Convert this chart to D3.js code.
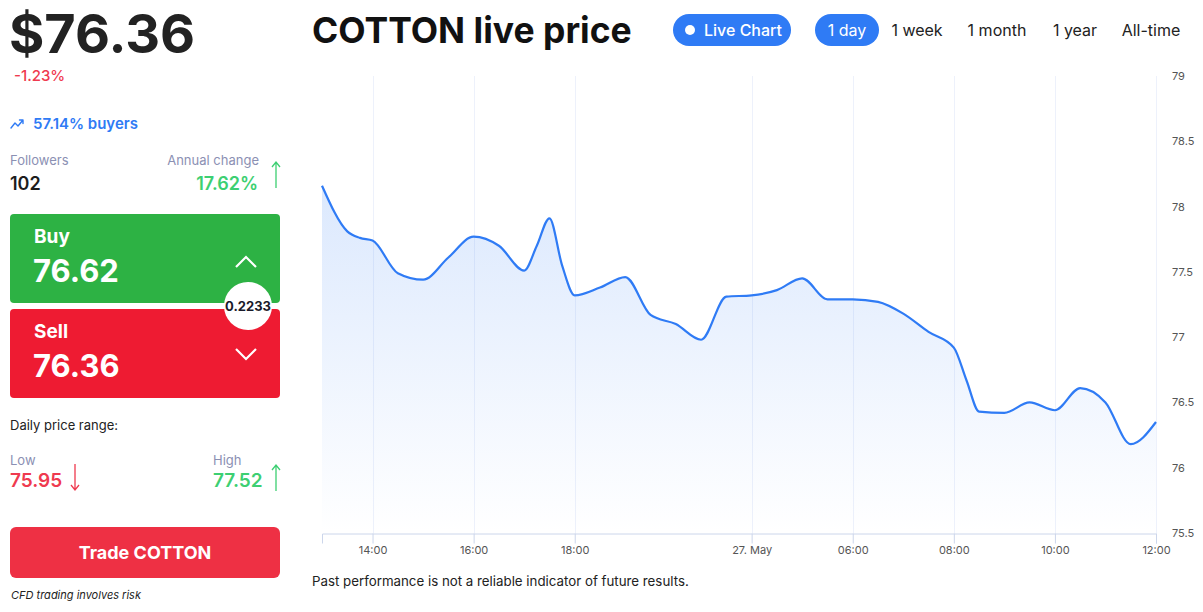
<!DOCTYPE html>
<html>
<head>
<meta charset="utf-8">
<script src="https://cdn.jsdelivr.net/npm/d3@7"></script>
<style>
  body { margin: 0; background: #fff; font-family: Inter, "Noto Sans", sans-serif; }
  svg text { font-family: Inter, "Noto Sans", sans-serif; }
</style>
</head>
<body>
<svg id="chart" width="1203" height="612"></svg>
<script>
// price samples (time, value)
const times = [
  "2024-05-26 13:00", "2024-05-26 13:30", "2024-05-26 13:45", "2024-05-26 14:00",
  "2024-05-26 14:30", "2024-05-26 15:00", "2024-05-26 15:30", "2024-05-26 16:00",
  "2024-05-26 16:30", "2024-05-26 17:00", "2024-05-26 17:15", "2024-05-26 17:30",
  "2024-05-26 17:45", "2024-05-26 18:00", "2024-05-26 18:30", "2024-05-26 19:00",
  "2024-05-26 19:30", "2024-05-26 20:00", "2024-05-26 20:30",
  "2024-05-27 03:30", "2024-05-27 04:00", "2024-05-27 04:30", "2024-05-27 05:00",
  "2024-05-27 05:30", "2024-05-27 06:00", "2024-05-27 06:30", "2024-05-27 07:00",
  "2024-05-27 07:30", "2024-05-27 08:00", "2024-05-27 08:15", "2024-05-27 08:30",
  "2024-05-27 09:00", "2024-05-27 09:30", "2024-05-27 10:00", "2024-05-27 10:30",
  "2024-05-27 11:00", "2024-05-27 11:30", "2024-05-27 12:00"
];
const prices = [
  78.16, 77.81, 77.76, 77.74,
  77.49, 77.44, 77.61, 77.77,
  77.70, 77.51, 77.70, 77.91,
  77.55, 77.32, 77.38, 77.46,
  77.17, 77.10, 76.98,
  77.31, 77.32, 77.36, 77.45,
  77.29, 77.29, 77.27, 77.18,
  77.04, 76.92, 76.67, 76.43,
  76.42, 76.50, 76.44, 76.61,
  76.50, 76.18, 76.35
];
// trading sessions (market closed in between, gap collapsed like an ordinal axis)
const sessions = [["2024-05-26 13:00", "2024-05-26 20:30"], ["2024-05-27 03:00", "2024-05-27 12:00"]];
const xTickTimes = ["2024-05-26 14:00", "2024-05-26 16:00", "2024-05-26 18:00", "2024-05-27 04:00",
                    "2024-05-27 06:00", "2024-05-27 08:00", "2024-05-27 10:00", "2024-05-27 12:00"];
const xTickLabels = ["14:00", "16:00", "18:00", "27. May", "06:00", "08:00", "10:00", "12:00"];
const yTicks = [75.5, 76, 76.5, 77, 77.5, 78, 78.5, 79];

const parse = d3.timeParse("%Y-%m-%d %H:%M");
const data = times.map((t, i) => ({ t: parse(t), v: prices[i] }));

const svg = d3.select("#chart");
const plot = { left: 322, right: 1156, top: 76, bottom: 533 };
const W = plot.right - plot.left;

// piecewise time scale, gap squeezed out
const s = sessions.map(p => p.map(parse));
const len1 = s[0][1] - s[0][0], len2 = s[1][1] - s[1][0];
const a = W * len1 / (len1 + len2);
const x = d3.scaleTime()
  .domain([s[0][0], s[0][1], s[1][0], s[1][1]])
  .range([plot.left, plot.left + a, plot.left + a, plot.right]);
const y = d3.scaleLinear().domain([75.5, 79]).range([plot.bottom, plot.top]);

// gradient for area
const defs = svg.append("defs");
const grad = defs.append("linearGradient").attr("id", "areaGrad")
  .attr("x1", 0).attr("y1", 0).attr("x2", 0).attr("y2", 1);
grad.append("stop").attr("offset", "0%").attr("stop-color", "#2f7bf5").attr("stop-opacity", 0.17);
grad.append("stop").attr("offset", "100%").attr("stop-color", "#2f7bf5").attr("stop-opacity", 0.0);

// vertical grid lines
svg.append("g")
  .selectAll("line")
  .data(xTickTimes.map(parse))
  .enter()
  .append("line")
  .attr("x1", d => Math.round(x(d)) + 0.5).attr("x2", d => Math.round(x(d)) + 0.5)
  .attr("y1", plot.top).attr("y2", plot.bottom)
  .attr("stroke", "#edf1fb").attr("stroke-width", 1);

const area = d3.area().x(d => x(d.t)).y0(plot.bottom).y1(d => y(d.v)).curve(d3.curveMonotoneX);
const line = d3.line().x(d => x(d.t)).y(d => y(d.v)).curve(d3.curveMonotoneX);

svg.append("path").datum(data).attr("d", area).attr("fill", "url(#areaGrad)");
svg.append("path").datum(data).attr("d", line)
  .attr("fill", "none").attr("stroke", "#2f7bf5").attr("stroke-width", 2.2);

// x axis
const xAxis = d3.axisBottom(x)
  .tickValues(xTickTimes.map(parse))
  .tickFormat((d, i) => xTickLabels[i])
  .tickSizeOuter(0).tickSize(10).tickPadding(4);
const gx = svg.append("g").attr("transform", `translate(0,${plot.bottom + 0.5})`).call(xAxis);
gx.select(".domain").attr("stroke", "#ccd6eb");
gx.selectAll(".tick line").attr("stroke", "#ccd6eb");
gx.selectAll(".tick text").attr("fill", "#555").attr("font-size", 11);
gx.selectAll(".tick text").attr("dy", "0.55em");

// y axis on right
const yAxis = d3.axisRight(y).tickValues(yTicks).tickFormat(d3.format("")).tickSize(0).tickPadding(16);
const gy = svg.append("g").attr("transform", `translate(${plot.right},0)`).call(yAxis);
gy.select(".domain").remove();
gy.selectAll(".tick text").attr("fill", "#555").attr("font-size", 11);

// header
svg.append("text").attr("x", 312).attr("y", 43).text("COTTON live price")
  .attr("font-size", 35.5).attr("font-weight", 700).attr("fill", "#111");

svg.append("rect").attr("x", 673).attr("y", 14).attr("width", 118).attr("height", 32).attr("rx", 16).attr("fill", "#2f7bf5");
svg.append("circle").attr("cx", 690).attr("cy", 30).attr("r", 5).attr("fill", "#fff");
svg.append("text").attr("x", 704).attr("y", 36).text("Live Chart").attr("font-size", 16).attr("font-weight", 500).attr("fill", "#fff");

const ranges = ["1 day", "1 week", "1 month", "1 year", "All-time"];
const rangeX = [847, 917, 997, 1075, 1151];
svg.append("rect").attr("x", 815).attr("y", 14).attr("width", 64).attr("height", 32).attr("rx", 16).attr("fill", "#2f7bf5");
svg.append("g").selectAll("text").data(ranges).enter().append("text")
  .attr("x", (d, i) => rangeX[i]).attr("y", 36).attr("text-anchor", "middle")
  .attr("font-size", 16).attr("font-weight", 400)
  .attr("fill", (d, i) => i === 0 ? "#fff" : "#222").text(d => d);

svg.append("text").attr("x", 312).attr("y", 586).text("Past performance is not a reliable indicator of future results.")
  .attr("font-size", 13.3).attr("fill", "#222");

// left panel
const left = svg.append("g");
left.append("text").attr("x", 9).attr("y", 53).text("$76.36").attr("font-size", 54).attr("font-weight", 700).attr("fill", "#222");
left.append("text").attr("x", 14).attr("y", 81).text("-1.23%").attr("font-size", 15).attr("font-weight", 500).attr("fill", "#ef3a4f");

left.append("path").attr("d", "M11,128 L15,123 L18,126 L23,120 M19.5,120 L23,120 L23,123.5")
  .attr("fill", "none").attr("stroke", "#2f7bf5").attr("stroke-width", 1.4).attr("stroke-linecap", "round").attr("stroke-linejoin", "round");
left.append("text").attr("x", 33).attr("y", 129).text("57.14% buyers").attr("font-size", 15).attr("font-weight", 600).attr("fill", "#2f7bf5");

left.append("text").attr("x", 10).attr("y", 165).text("Followers").attr("font-size", 13).attr("fill", "#8b90b3");
left.append("text").attr("x", 10).attr("y", 190).text("102").attr("font-size", 18).attr("font-weight", 600).attr("fill", "#1d1d1d");
left.append("text").attr("x", 259).attr("y", 165).attr("text-anchor", "end").text("Annual change").attr("font-size", 13).attr("fill", "#8b90b3");
left.append("text").attr("x", 258).attr("y", 190).attr("text-anchor", "end").text("17.62%").attr("font-size", 18).attr("font-weight", 600).attr("fill", "#3dcf72");

function arrow(cx, y1, y2, color) {
  const dir = y2 > y1 ? -1 : 1;
  left.append("path")
    .attr("d", `M${cx},${y1} L${cx},${y2} M${cx - 4},${y2 + dir * 5} L${cx},${y2} L${cx + 4},${y2 + dir * 5}`)
    .attr("fill", "none").attr("stroke", color).attr("stroke-width", 1.3);
}
arrow(276, 188, 162, "#3dcf72");

// buy / sell boxes
left.append("rect").attr("x", 10).attr("y", 214).attr("width", 270).attr("height", 89).attr("rx", 4).attr("fill", "#2db244");
left.append("rect").attr("x", 10).attr("y", 309).attr("width", 270).attr("height", 89).attr("rx", 4).attr("fill", "#ee1b32");
left.append("text").attr("x", 34).attr("y", 243).text("Buy").attr("font-size", 19).attr("font-weight", 700).attr("fill", "#fff");
left.append("text").attr("x", 33).attr("y", 282).text("76.62").attr("font-size", 31).attr("font-weight", 700).attr("fill", "#fff");
left.append("text").attr("x", 34).attr("y", 338).text("Sell").attr("font-size", 19).attr("font-weight", 700).attr("fill", "#fff");
left.append("text").attr("x", 33).attr("y", 377).text("76.36").attr("font-size", 31).attr("font-weight", 700).attr("fill", "#fff");
left.append("path").attr("d", "M236,267 L246,257 L256,267").attr("fill", "none").attr("stroke", "#fff").attr("stroke-width", 2.2);
left.append("path").attr("d", "M236,349 L246,359 L256,349").attr("fill", "none").attr("stroke", "#fff").attr("stroke-width", 2.2);
left.append("circle").attr("cx", 248).attr("cy", 306).attr("r", 24).attr("fill", "#fff");
left.append("text").attr("x", 248).attr("y", 311).attr("text-anchor", "middle").text("0.2233").attr("font-size", 13).attr("font-weight", 700).attr("fill", "#1a1a2a");

left.append("text").attr("x", 10).attr("y", 430).text("Daily price range:").attr("font-size", 13).attr("fill", "#222");
left.append("text").attr("x", 10).attr("y", 465).text("Low").attr("font-size", 13).attr("fill", "#8b90b3");
left.append("text").attr("x", 10).attr("y", 487).text("75.95").attr("font-size", 19).attr("font-weight", 600).attr("fill", "#ef3a4f");
arrow(75, 464, 490, "#ef3a4f");
left.append("text").attr("x", 213).attr("y", 465).text("High").attr("font-size", 13).attr("fill", "#8b90b3");
left.append("text").attr("x", 213).attr("y", 487).text("77.52").attr("font-size", 19).attr("font-weight", 600).attr("fill", "#3dcf72");
arrow(276, 491, 465, "#3dcf72");

left.append("rect").attr("x", 10).attr("y", 527).attr("width", 270).attr("height", 51).attr("rx", 6).attr("fill", "#ee3044");
left.append("text").attr("x", 145).attr("y", 559).attr("text-anchor", "middle").text("Trade COTTON").attr("font-size", 18).attr("font-weight", 700).attr("fill", "#fff");
left.append("text").attr("x", 11).attr("y", 599).text("CFD trading involves risk").attr("font-size", 11).attr("font-style", "italic").attr("fill", "#222");
</script>
</body>
</html>
